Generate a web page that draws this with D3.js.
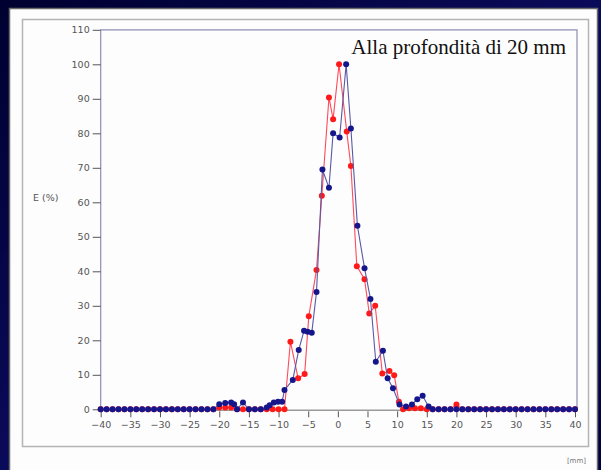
<!DOCTYPE html>
<html><head><meta charset="utf-8">
<script src="https://cdn.jsdelivr.net/npm/d3@7"></script>
<style>html,body{margin:0;padding:0;background:#02023a;}svg{display:block;}</style>
</head><body>
<script>
// ---- data ----
const xTicks = [-40,-35,-30,-25,-20,-15,-10,-5,0,5,10,15,20,25,30,35,40];
const yTicks = [0,10,20,30,40,50,60,70,80,90,100,110];
const titleText = "Alla profondità di 20 mm";
const yLabel = "E (%)";
const xUnit = "[mm]";

// blue series (position mm, E %)
const blueX = [-40,-39,-38,-37,-36,-35,-34,-33,-32,-31,-30,-29,-28,-27,-26,-25,-24,-23,-22,-21,
  -20,-19,-18,-17.5,-17,-16,-15,-14,-13,-12,-11.5,-10.8,-10.1,-9.4,-9.0,-7.6,-6.6,-5.7,-5.1,-4.4,
  -3.6,-2.6,-1.5,-0.8,0.3,1.4,2.2,3.3,4.5,5.5,6.4,7.6,8.4,9.3,10.4,11.5,12.5,13.4,14.3,15.3,
  16,17,18,19,20,21,22,23,24,25,26,27,28,29,30,31,32,33,34,35,36,37,38,39,40];
const blueY = [0,0,0,0,0,0,0,0,0,0,0,0,0,0,0,0,0,0,0,0,
  1.5,1.8,2.0,1.5,0,2.0,0,0,0,0.5,1.2,2.0,2.2,2.2,5.6,8.5,17.2,22.8,22.5,22.2,
  34.0,69.5,64.2,80.0,78.8,100,81.4,53.2,40.9,32.0,13.8,17.0,9.0,6.1,1.4,0.8,1.4,2.9,3.9,0.8,
  0,0,0,0,0,0,0,0,0,0,0,0,0,0,0,0,0,0,0,0,0,0,0,0,0];

// red series (position mm, E %)
const redX = [-40,-39,-38,-37,-36,-35,-34,-33,-32,-31,-30,-29,-28,-27,-26,-25,-24,-23,-22,-21,
  -20,-19,-18,-17,-16,-15,-14,-13,-12,-11,-10,-9,-8.0,-6.7,-5.6,-4.9,-3.6,-2.7,-1.5,-0.8,0.2,
  1.5,2.2,3.2,4.5,5.3,6.3,7.5,8.7,9.5,10.3,11,12,13,14,15,16,17,18,19,20,
  21,22,23,24,25,26,27,28,29,30,31,32,33,34,35,36,37,38,39,40];
const redY = [0,0,0,0,0,0,0,0,0,0,0,0,0,0,0,0,0,0,0,0,
  0.5,0.5,0.5,0,0,0,0,0,0,0,0,0,19.6,9.0,10.2,27.0,40.4,61.9,90.4,84.1,100,
  80.5,70.5,41.5,37.7,27.8,30.0,10.4,11.1,9.9,2.2,0,0.3,0.3,0.3,0,0,0,0,0,1.4,
  0,0,0,0,0,0,0,0,0,0,0,0,0,0,0,0,0,0,0,0];

const W = 601, H = 470;
const svg = d3.select("body").append("svg").attr("width", W).attr("height", H);

// background
const defs = svg.append("defs");
const g1 = defs.append("linearGradient").attr("id","bg").attr("x1","0").attr("y1","0").attr("x2","1").attr("y2","1");
g1.append("stop").attr("offset","0").attr("stop-color","#000030");
g1.append("stop").attr("offset","0.5").attr("stop-color","#0a0a5a");
g1.append("stop").attr("offset","1").attr("stop-color","#000040");
svg.append("rect").attr("width",W).attr("height",H).attr("fill","url(#bg)");

// white panel
svg.append("rect").attr("x",9.5).attr("y",8.5).attr("width",588).attr("height",470)
  .attr("fill","#fdfdfd").attr("stroke","#6a6a6a").attr("stroke-width",1.5);
// inner frame
svg.append("rect").attr("x",22.5).attr("y",19.5).attr("width",566).attr("height",427)
  .attr("fill","none").attr("stroke","#b4b4b4").attr("stroke-width",1.5);

const x = d3.scaleLinear().domain([-40,40]).range([100.7,575]);
const y = d3.scaleLinear().domain([0,110]).range([409.3,29.8]);

// plot frame (top, right, left)
svg.append("path")
  .attr("d", `M${x(-40)},${y(0)}V${y(110)}H${x(40)+2}V${y(0)}`)
  .attr("fill","none").attr("stroke","#8e8eb4").attr("stroke-width",1.2);
// x axis line
svg.append("line").attr("x1",x(-40)).attr("x2",x(40)+2).attr("y1",y(0)+1).attr("y2",y(0)+1)
  .attr("stroke","#9a9a9a").attr("stroke-width",1.5);

// axes
const fontTick = "'DejaVu Sans', 'Liberation Sans', sans-serif";
const ya = svg.append("g").attr("transform",`translate(${x(-40)},0)`)
  .call(d3.axisLeft(y).tickValues(yTicks).tickSize(8).tickPadding(3).tickFormat(d3.format("d")));
ya.select(".domain").remove();
ya.selectAll("line").attr("stroke","#555");
ya.selectAll("text").attr("fill","#555").style("font-family",fontTick).style("font-size","9.5px");

const xa = svg.append("g").attr("transform",`translate(0,${y(0)+2})`)
  .call(d3.axisBottom(x).tickValues(xTicks).tickSize(6).tickPadding(4).tickFormat(d3.format("d")));
xa.select(".domain").remove();
xa.selectAll("line").attr("stroke","#555");
xa.selectAll("text").attr("fill","#555").style("font-family",fontTick).style("font-size","9.5px");

// labels
svg.append("text").attr("x",33).attr("y",201).text(yLabel)
  .attr("fill","#555").style("font-family",fontTick).style("font-size","9.5px");
svg.append("text").attr("x",586).attr("y",463).attr("text-anchor","end").text(xUnit)
  .attr("fill","#777").style("font-family",fontTick).style("font-size","7px");
svg.append("text").attr("x",566).attr("y",54).attr("text-anchor","end").text(titleText)
  .attr("fill","#111").style("font-family","'Liberation Serif', 'Times New Roman', serif").style("font-size","21px");

// series
const redData = redX.map((v,i)=>[v,redY[i]]);
const blueData = blueX.map((v,i)=>[v,blueY[i]]);
const line = d3.line().x(d=>x(d[0])).y(d=>y(d[1]));

function drawSeries(data, lineColor, dotColor){
  svg.append("path").datum(data).attr("d",line).attr("fill","none")
    .attr("stroke",lineColor).attr("stroke-width",1.1);
  svg.append("g").selectAll("circle").data(data).join("circle")
    .attr("cx",d=>x(d[0])).attr("cy",d=>y(d[1])).attr("r",3).attr("fill",dotColor);
}
drawSeries(redData, "#ff4a5a", "#ff1a1a");
drawSeries(blueData, "#5858a8", "#16168c");
</script>
</body></html>
